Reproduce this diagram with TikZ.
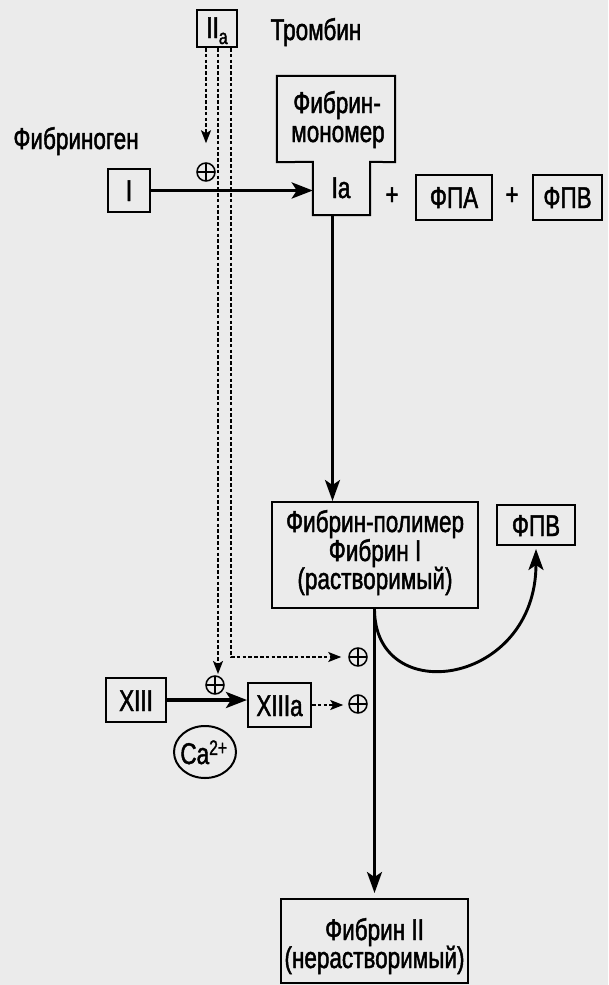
\documentclass[tikz,border=0pt]{standalone}
\usepackage{fontspec}
\setmainfont{Liberation Sans}[FakeStretch=0.75, FakeBold=1.5]
\usetikzlibrary{arrows.meta}
\begin{document}
\begin{tikzpicture}[x=1pt,y=-1pt,
  box/.style={draw, line width=2pt, inner sep=0pt, font=\fontsize{30}{31}\selectfont},
  lbl/.style={inner sep=0pt, font=\fontsize{30}{31}\selectfont},
  thickarr/.style={line width=3.6pt, -{Stealth[length=21pt,width=16pt,inset=5pt]}},
  vertarr/.style={line width=2.7pt, -{Stealth[length=21pt,width=15pt,inset=5pt]}},
  dasharr/.style={line width=1.8pt, dash pattern=on 3.5pt off 2.3pt, -{Stealth[length=13pt,width=10pt,inset=3pt]}},
  pluscirc/.style={circle, draw, line width=1.5pt, minimum size=18pt, inner sep=0pt,
    path picture={\draw[line width=1.5pt] (path picture bounding box.north) -- (path picture bounding box.south)
      (path picture bounding box.west) -- (path picture bounding box.east);}}]
\fill[black!8] (0,0) rectangle (608,985);
\useasboundingbox (0,0) rectangle (608,985);

% top
\node[box, minimum width=40, minimum height=37] (IIa) at (217,28.5) {};
\node[lbl, anchor=base] (IIat) at (217,38) {II\raisebox{-6pt}{\fontsize{21}{21}\selectfont a}};
\node[lbl, anchor=base] (thr) at (316,40) {Тромбин};
\node[lbl, anchor=base] (fgn) at (76,149) {Фибриноген};
\node[box, minimum width=42, minimum height=43] (I) at (129,190.5) {};
\node[lbl, anchor=base] (It) at (129,201) {I};

% fibrin monomer
\node[minimum width=118, minimum height=86, inner sep=0pt] (mono) at (336,119) {};
\node[minimum width=57, minimum height=53, inner sep=0pt] (Ia) at (341.5,188.5) {};
\draw[line width=2pt] (mono.north west) -- (mono.north east) -- (mono.south east) -- (Ia.north east)
  -- (Ia.south east) -- (Ia.south west) -- (Ia.north west) -- (mono.south west) -- cycle;
\node[lbl, anchor=base] (m1) at (337,113) {Фибрин-};
\node[lbl, anchor=base] (m2) at (338,142) {мономер};
\node[lbl, anchor=base] (m3) at (341,198) {Ia};

\node[lbl] (p1) at (392,196) {+};
\node[box, minimum width=76, minimum height=45] (fpa) at (454,197.5) {};
\node[lbl, anchor=base] (fpat) at (454,208) {ФПА};
\node[lbl] (p2) at (512,196) {+};
\node[box, minimum width=69, minimum height=45] (fpb) at (567.5,197.5) {};
\node[lbl, anchor=base] (fpbt) at (567.5,208) {ФПВ};

% polymer
\node[box, minimum width=206, minimum height=106] (poly) at (375,555) {};
\node[lbl, anchor=base] (q1) at (375,532) {Фибрин-полимер};
\node[lbl, anchor=base] (q2) at (375,561) {Фибрин I};
\node[lbl, anchor=base] (q3) at (375,589) {(растворимый)};
\node[box, minimum width=78, minimum height=40] (fpb2) at (536,525) {};
\node[lbl, anchor=base] (fpb2t) at (536,536) {ФПВ};

% XIII
\node[box, minimum width=60, minimum height=44] (XIII) at (136,700) {};
\node[lbl, anchor=base] (XIIIt) at (136,711) {XIII};
\node[box, minimum width=63, minimum height=44] (XIIIa) at (279.5,705) {};
\node[lbl, anchor=base] (XIIIat) at (279.5,716) {XIIIa};
\draw[line width=2pt] (205,752) ellipse [x radius=31, y radius=26];
\node[lbl, anchor=base] (ca) at (204,764) {Ca\textsuperscript{2+}};
\node[pluscirc] (pl0) at (206,172) {};
\node[pluscirc] (pl1) at (215,685) {};
\node[pluscirc] (pl2) at (358,657) {};
\node[pluscirc] (pl3) at (358,704) {};

% fibrin II
\node[box, minimum width=187, minimum height=84] (fib2) at (374.5,941) {};
\node[lbl, anchor=base] (r1) at (374.5,940) {Фибрин II};
\node[lbl, anchor=base] (r2) at (374.5,968) {(нерастворимый)};

% connectors
\draw[thickarr] (I.east) -- (I.east -| Ia.west);
\draw[vertarr] ([xshift=-9pt]Ia.south) -- ([xshift=-9pt]Ia.south |- poly.north);
\draw[vertarr, shorten >=5pt] (poly.south -| fib2.north) -- (fib2.north);
\draw[line width=2.9pt, -{Stealth[length=21pt,width=15pt,inset=5pt]}, shorten >=3pt] (poly.south -| fib2.north) .. controls +(0,100) and +(0,140) .. (fpb2.south);
\draw[thickarr] (XIII.east) -- (XIII.east -| XIIIa.west);

\draw[dasharr, shorten >=19pt] (IIa.south -| pl0) -- (pl0);
\draw[dasharr, shorten >=11pt] ([xshift=1pt]IIa.south) -- ([xshift=1pt]IIa.south |- pl1);
\draw[dasharr, shorten >=7pt] ([xshift=14pt]IIa.south) |- (pl2);
\draw[dasharr, shorten >=5pt] (XIIIa.east) -- (XIIIa.east -| pl3.west);
\end{tikzpicture}
\end{document}
